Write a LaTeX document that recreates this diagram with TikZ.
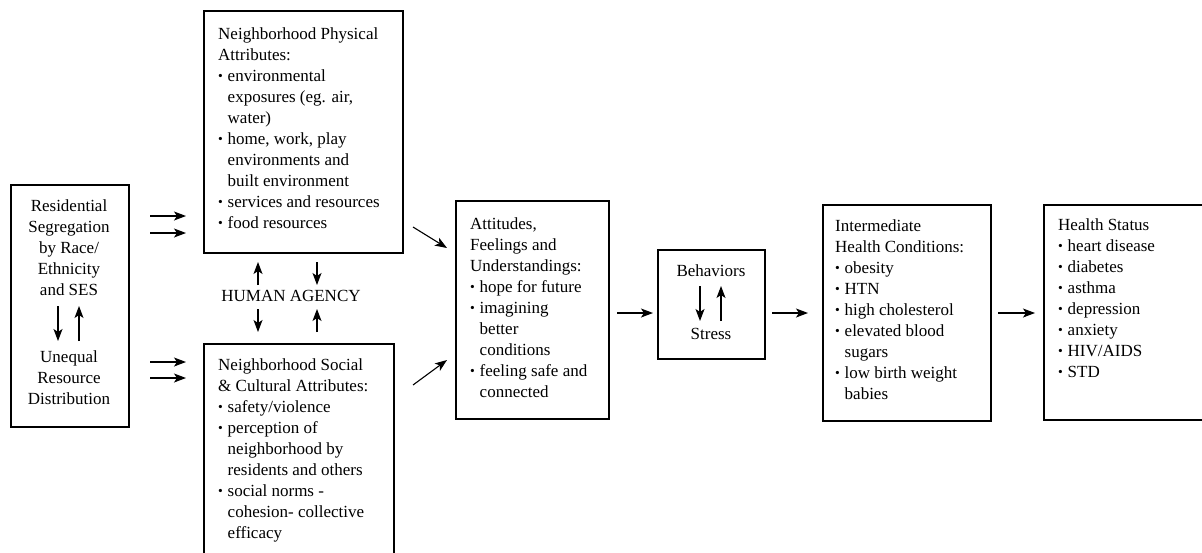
\documentclass[tikz,border=0pt]{standalone}
\usepackage{fontspec}
\setmainfont{Liberation Serif}
\usepackage{graphicx}
\usetikzlibrary{arrows.meta}
\newcommand{\bul}{\makebox[9.5pt][l]{\raisebox{0.6pt}{\scalebox{0.8}{\textbullet}}}}
\newcommand{\ind}{\hspace*{9.5pt}}
\begin{document}
\begin{tikzpicture}[x=1pt,y=-1pt,
  box/.style={draw, line width=2.4pt, anchor=north west, inner sep=0pt},
  txt/.style={inner sep=0pt, align=left, anchor=north west, font=\fontsize{17}{21}\selectfont},
  ctxt/.style={txt, align=center, anchor=north},
  arr/.style={-{Stealth[length=12pt,width=9pt,inset=3pt]}, line width=1.1pt}]
\clip (0,0) rectangle (1202,552);
\fill[white] (0,0) rectangle (1202,552);
% boxes
\node[box, minimum width=118pt, minimum height=242pt] (b1) at (10,184) {};
\node[box, minimum width=199pt, minimum height=242pt] (b2) at (203,10) {};
\node[box, minimum width=190pt, minimum height=217pt] (b3) at (203,343) {};
\node[box, minimum width=153pt, minimum height=218pt] (b4) at (455,200) {};
\node[box, minimum width=107pt, minimum height=109pt] (b5) at (657,249) {};
\node[box, minimum width=168pt, minimum height=216pt] (b6) at (822,204) {};
\node[box, minimum width=167pt, minimum height=215pt] (b7) at (1043,204) {};
% texts
\node[ctxt] (t1a) at (69,199) {Residential\\Segregation\\by Race/\\Ethnicity\\and SES};
\node[ctxt] (t1b) at (69,350) {Unequal\\Resource\\Distribution};
\node[txt] (t2) at (218,27) {Neighborhood Physical\\Attributes:\\\bul environmental\\\ind exposures (eg. air,\\\ind water)\\\bul home, work, play\\\ind environments and\\\ind built environment\\\bul services and resources\\\bul food resources};
\node[txt] (t3) at (218,358) {Neighborhood Social\\\& Cultural Attributes:\\\bul safety/violence\\\bul perception of\\\ind neighborhood by\\\ind residents and others\\\bul social norms -\\\ind cohesion- collective\\\ind efficacy};
\node[txt] (t4) at (470,217) {Attitudes,\\Feelings and\\Understandings:\\\bul hope for future\\\bul imagining\\\ind better\\\ind conditions\\\bul feeling safe and\\\ind connected};
\node[ctxt] (t5a) at (711,264) {Behaviors};
\node[ctxt] (t5b) at (711,328) {Stress};
\node[txt] (t6) at (835,219) {Intermediate\\Health Conditions:\\\bul obesity\\\bul HTN\\\bul high cholesterol\\\bul elevated blood\\\ind sugars\\\bul low birth weight\\\ind babies};
\node[txt] (t7) at (1058,218) {Health Status\\\bul heart disease\\\bul diabetes\\\bul asthma\\\bul depression\\\bul anxiety\\\bul HIV/AIDS\\\bul STD};
\node[ctxt] (ha) at (291,290) {HUMAN AGENCY};
% arrow end points
\coordinate (p1s) at (150,216); \coordinate (p1e) at (186,216);
\coordinate (p2s) at (150,233); \coordinate (p2e) at (186,233);
\coordinate (p3s) at (150,362); \coordinate (p3e) at (186,362);
\coordinate (p4s) at (150,378); \coordinate (p4e) at (186,378);
\coordinate (h1s) at (258,285); \coordinate (h1e) at (258,262);
\coordinate (h2s) at (317,262); \coordinate (h2e) at (317,285);
\coordinate (h3s) at (258,309); \coordinate (h3e) at (258,332);
\coordinate (h4s) at (317,332); \coordinate (h4e) at (317,309);
\coordinate (d1s) at (413,227); \coordinate (d1e) at (447,248);
\coordinate (d2s) at (413,385); \coordinate (d2e) at (447,360);
\coordinate (r1s) at (617,313); \coordinate (r1e) at (653,313);
\coordinate (r2s) at (772,313); \coordinate (r2e) at (808,313);
\coordinate (r3s) at (998,313); \coordinate (r3e) at (1035,313);
\coordinate (u1s) at (58,306); \coordinate (u1e) at (58,341);
\coordinate (u2s) at (79,341); \coordinate (u2e) at (79,306);
\coordinate (v1s) at (700,286); \coordinate (v1e) at (700,321);
\coordinate (v2s) at (721,321); \coordinate (v2e) at (721,286);
% arrows
\foreach \a in {p1,p2,p3,p4,h1,h2,h3,h4,d1,d2,r1,r2,r3,u1,u2,v1,v2}
  \draw[arr] (\a s) -- (\a e);
\end{tikzpicture}
\end{document}
